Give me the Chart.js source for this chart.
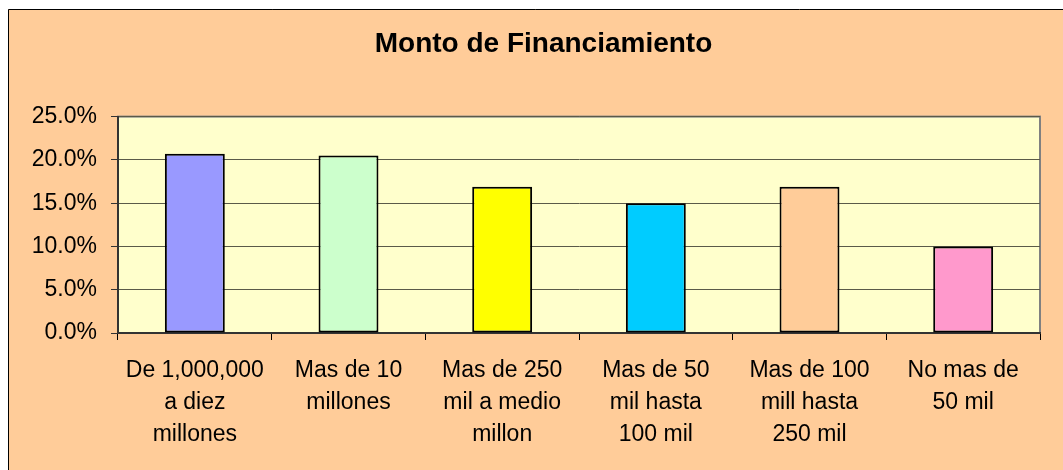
<!DOCTYPE html>
<html>
<head>
<meta charset="utf-8">
<script src="https://cdn.jsdelivr.net/npm/chart.js@4"></script>
<style>
  html, body { margin: 0; padding: 0; background: #ffffff; }
  #wrap { position: absolute; left: 0; top: 0; width: 1063px; height: 470px; }
</style>
</head>
<body>
<div id="wrap"><canvas id="c" width="1063" height="470"></canvas></div>
<script>
const chartTitle = 'Monto de Financiamiento';
const categories = [
  ['De 1,000,000', 'a diez', 'millones'],
  ['Mas de 10', 'millones'],
  ['Mas de 250', 'mil a medio', 'millon'],
  ['Mas de 50', 'mil hasta', '100 mil'],
  ['Mas de 100', 'mill hasta', '250 mil'],
  ['No mas de', '50 mil']
];
const values = [0.207, 0.205, 0.169, 0.150, 0.169, 0.100];
const barColors = ['#9999FF', '#CCFFCC', '#FFFF00', '#00CCFF', '#FFCC99', '#FF99CC'];
const yMin = 0, yMax = 0.25, yStep = 0.05;

const FONT = '"Liberation Sans", Arial, sans-serif';

const framePlugin = {
  id: 'frame',
  beforeDraw(chart) {
    const ctx = chart.ctx;
    const a = chart.chartArea;
    ctx.save();
    ctx.fillStyle = '#ffffff';
    ctx.fillRect(0, 0, chart.width, chart.height);
    ctx.fillStyle = '#FFCC99';
    ctx.fillRect(8, 9, chart.width - 8, chart.height - 9);
    ctx.strokeStyle = '#000000';
    ctx.lineWidth = 1;
    ctx.beginPath();
    ctx.moveTo(8.5, chart.height);
    ctx.lineTo(8.5, 9.5);
    ctx.lineTo(chart.width, 9.5);
    ctx.stroke();
    ctx.fillStyle = '#FFFFCC';
    ctx.fillRect(a.left, a.top, a.right - a.left, a.bottom - a.top);
    ctx.strokeStyle = '#808080';
    ctx.lineWidth = 2;
    ctx.strokeRect(a.left, a.top, a.right - a.left, a.bottom - a.top);
    ctx.restore();
  }
};

new Chart(document.getElementById('c'), {
  type: 'bar',
  data: {
    labels: categories,
    datasets: [{
      data: values,
      backgroundColor: barColors,
      borderColor: '#000000',
      borderWidth: 2,
      borderSkipped: false,
      barPercentage: 0.39,
      categoryPercentage: 1.0
    }]
  },
  options: {
    responsive: false,
    animation: false,
    layout: { padding: { left: 24, right: 0, top: 0, bottom: 0 } },
    plugins: {
      legend: { display: false },
      tooltip: { enabled: false },
      title: {
        display: true,
        text: chartTitle,
        color: '#000000',
        font: { family: FONT, size: 28, weight: 'bold', lineHeight: 1.2 },
        padding: { top: 27, bottom: 56 }
      }
    },
    scales: {
      x: {
        offset: true,
        grid: {
          offset: true,
          drawOnChartArea: false,
          drawTicks: true,
          tickLength: 7,
          tickColor: '#000000',
          tickWidth: 1
        },
        border: { display: true, color: '#333333', width: 2 },
        ticks: {
          color: '#000000',
          font: { family: FONT, size: 23, lineHeight: 1.39 },
          maxRotation: 0,
          minRotation: 0,
          autoSkip: false,
          padding: 15
        },
        afterFit(scale) { scale.height = 137; }
      },
      y: {
        min: yMin,
        max: yMax,
        grid: {
          color: '#5a5a48',
          lineWidth: 1,
          drawTicks: true,
          tickLength: 7,
          tickColor: '#333333',
          tickWidth: 1
        },
        border: { display: true, color: '#333333', width: 2 },
        ticks: {
          stepSize: yStep,
          color: '#000000',
          font: { family: FONT, size: 23 },
          padding: 14,
          callback: (v) => (v * 100).toFixed(1) + '%'
        },
        afterFit(scale) { scale.width = 94; }
      },
      yRight: {
        position: 'right',
        display: true,
        min: yMin,
        max: yMax,
        grid: { drawOnChartArea: false, drawTicks: false },
        border: { display: false },
        ticks: { display: false },
        afterFit(scale) { scale.width = 23; }
      }
    }
  },
  plugins: [framePlugin]
});
</script>
</body>
</html>
